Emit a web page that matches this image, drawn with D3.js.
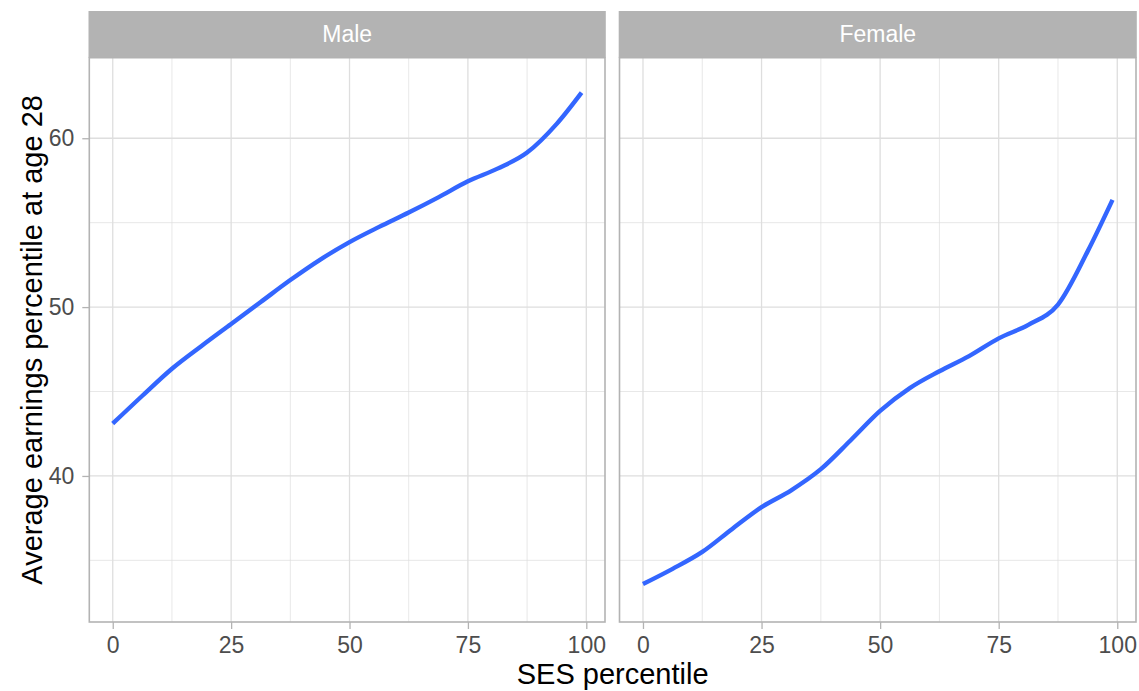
<!DOCTYPE html>
<html><head><meta charset="utf-8">
<script src="https://cdn.jsdelivr.net/npm/d3@7"></script>
<style>body{margin:0;background:#fff}svg{display:block}text{font-family:"Liberation Sans",Arial,Helvetica,sans-serif}</style>
</head><body><svg id="c" width="1139" height="691"></svg>
<script>
const panels = ["Male", "Female"];
const sesPct = [0, 6.25, 12.5, 18.75, 25, 31.25, 37.5, 43.75, 50, 56.25, 62.5, 68.75, 75, 81.25, 87.5, 93.75, 99];
const maleEarn = [43.1, 44.75, 46.35, 47.7, 49.0, 50.3, 51.6, 52.8, 53.85, 54.75, 55.6, 56.5, 57.45, 58.2, 59.15, 60.85, 62.7];
const femaleEarn = [33.6, 34.5, 35.5, 36.85, 38.15, 39.15, 40.4, 42.1, 43.85, 45.2, 46.2, 47.1, 48.15, 48.95, 50.15, 53.3, 56.35];
const xTicks = [0, 25, 50, 75, 100];
const xMinor = [12.5, 37.5, 62.5, 87.5];
const yTicks = [40, 50, 60];
const yMinor = [35, 45, 55];

const svg = d3.select("#c");
const panelTop = 57.7, panelBottom = 622, stripTop = 11;
const panelX = [[89.3, 605], [619.5, 1136]];
const y = d3.scaleLinear().domain([31.35, 64.77]).range([panelBottom, panelTop]);
const series = [maleEarn, femaleEarn];

panels.forEach((name, i) => {
  const [x0, x1] = panelX[i];
  const x = d3.scaleLinear().domain([-4.95, 103.95]).range([x0, x1]);
  const g = svg.append("g");
  g.selectAll(".vm").data(xMinor).join("line").attr("x1", d => x(d)).attr("x2", d => x(d))
    .attr("y1", panelTop).attr("y2", panelBottom).attr("stroke", "#dedede").attr("stroke-width", 0.7);
  g.selectAll(".hm").data(yMinor).join("line").attr("y1", d => y(d)).attr("y2", d => y(d))
    .attr("x1", x0).attr("x2", x1).attr("stroke", "#dedede").attr("stroke-width", 0.7);
  g.selectAll(".vM").data(xTicks).join("line").attr("x1", d => x(d)).attr("x2", d => x(d))
    .attr("y1", panelTop).attr("y2", panelBottom).attr("stroke", "#dedede").attr("stroke-width", 1.3);
  g.selectAll(".hM").data(yTicks).join("line").attr("y1", d => y(d)).attr("y2", d => y(d))
    .attr("x1", x0).attr("x2", x1).attr("stroke", "#dedede").attr("stroke-width", 1.3);
  const pts = sesPct.map((s, k) => [s, series[i][k]]);
  g.append("path").datum(pts).attr("fill", "none").attr("stroke", "#3366FF").attr("stroke-width", 4.4)
    .attr("d", d3.line().x(d => x(d[0])).y(d => y(d[1])).curve(d3.curveMonotoneX));
  g.append("rect").attr("x", x0).attr("y", panelTop).attr("width", x1 - x0).attr("height", panelBottom - panelTop)
    .attr("fill", "none").attr("stroke", "#b3b3b3").attr("stroke-width", 1.6);
  g.append("rect").attr("x", x0 - 0.8).attr("y", stripTop).attr("width", x1 - x0 + 1.6).attr("height", panelTop - stripTop)
    .attr("fill", "#b3b3b3");
  g.append("text").attr("x", (x0 + x1) / 2).attr("y", 41.8).attr("text-anchor", "middle")
    .attr("fill", "#fff").attr("font-size", 23).text(name);
  const xa = g.append("g").attr("transform", `translate(0,${panelBottom})`)
    .call(d3.axisBottom(x).tickValues(xTicks).tickSize(7).tickSizeOuter(0).tickPadding(8));
  xa.select(".domain").remove();
  xa.selectAll(".tick line").attr("stroke", "#b3b3b3").attr("stroke-width", 1.3);
  xa.selectAll(".tick text").attr("fill", "#4d4d4d").attr("font-size", 23);
  if (i === 0) {
    const ya = g.append("g").attr("transform", `translate(${x0},0)`)
      .call(d3.axisLeft(y).tickValues(yTicks).tickSize(7).tickSizeOuter(0).tickPadding(8));
    ya.select(".domain").remove();
    ya.selectAll(".tick line").attr("stroke", "#b3b3b3").attr("stroke-width", 1.3);
    ya.selectAll(".tick text").attr("fill", "#4d4d4d").attr("font-size", 23);
  }
});

svg.append("text").attr("x", (89.3 + 1136) / 2).attr("y", 684).attr("text-anchor", "middle")
  .attr("font-size", 29).attr("fill", "#000").text("SES percentile");
svg.append("text").attr("transform", `translate(41.5,${(panelTop + panelBottom) / 2}) rotate(-90)`)
  .attr("text-anchor", "middle").attr("font-size", 29).attr("fill", "#000").text("Average earnings percentile at age 28");
</script></body></html>
